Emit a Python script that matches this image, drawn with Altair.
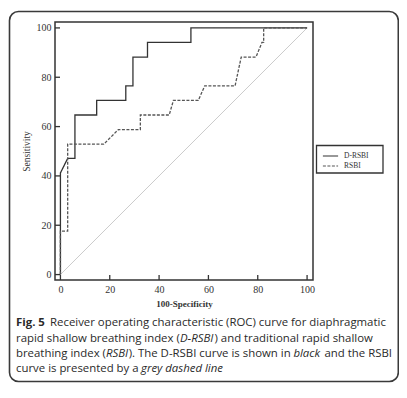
import altair as alt
import pandas as pd

# ---- data ----
d_fpr = [0, 0, 2.94, 5.88, 5.88, 14.7, 14.7, 26.5, 26.5, 29.4, 29.4, 35.3, 35.3, 52.9, 52.9, 100]
d_tpr = [0, 41.2, 47.1, 47.1, 64.7, 64.7, 70.6, 70.6, 76.5, 76.5, 88.2, 88.2, 94.1, 94.1, 100, 100]
r_fpr = [0, 0, 2.94, 2.94, 17.6, 23.5, 32.4, 32.4, 44.1, 45.8, 55.9, 58.5, 70.8, 73.3, 79.3, 81.7, 82.4, 82.4, 100]
r_tpr = [0, 17.6, 17.6, 52.9, 52.9, 58.8, 58.8, 64.7, 64.7, 70.6, 70.6, 76.5, 76.5, 88.2, 88.2, 94.1, 94.1, 100, 100]
series_names = ["D-RSBI", "RSBI"]
tick_values = [0, 20, 40, 60, 80, 100]
diag = [0, 100]

rows = []
for i, (x, y) in enumerate(zip(d_fpr, d_tpr)):
    rows.append({"series": "D-RSBI", "fpr": x, "tpr": y, "idx": i})
for i, (x, y) in enumerate(zip(r_fpr, r_tpr)):
    rows.append({"series": "RSBI", "fpr": x, "tpr": y, "idx": i})
df = pd.DataFrame(rows)
ticks_df = pd.DataFrame({"v": tick_values})
diag_df = pd.DataFrame({"x": diag, "y": diag})

# caption segments (text, style, x px, y px in plot coords)
cap_text = [
    "Fig. 5", "Receiver operating characteristic (ROC) curve for diaphragmatic",
    "rapid shallow breathing index (", "D-RSBI", ") and traditional rapid shallow",
    "breathing index (", "RSBI", "). The D-RSBI curve is shown in ", "black", "and the RSBI",
    "curve is presented by a ", "grey dashed line",
]
cap_style = ["bold", "normal",
             "normal", "italic", "normal",
             "normal", "italic", "normal", "italic", "normal",
             "normal", "italic"]
cap_x = [-39, -5,
         -39, 125, 159.5,
         -39, 51, 73.7, 238.4, 269.5,
         -39, 86]
cap_y = [301, 301,
         317, 317, 317,
         332, 332, 332, 332, 332,
         347, 347]
cap_df = pd.DataFrame({"t": cap_text, "s": cap_style, "px": cap_x, "py": cap_y})

XD = [-2.2, 102.4]
YD = [-2.2, 102.4]
SERIF = "Liberation Serif"
SANS = "Open Sans"

xscale = alt.Scale(domain=XD, nice=False, zero=False)
yscale = alt.Scale(domain=YD, nice=False, zero=False)

diag_line = alt.Chart(diag_df).mark_line(color="#cccccc", strokeWidth=1).encode(
    x=alt.X("x:Q", scale=xscale), y=alt.Y("y:Q", scale=yscale)
)

leg = dict(title=None, orient="none", legendX=270.5, legendY=129,
           symbolType="M-1.9,0H1.9", symbolSize=64, symbolStrokeWidth=1.2,
           labelFont=SERIF, labelFontSize=7.5, labelColor="#333",
           padding=0, rowPadding=1, labelOffset=8.5)

lines = alt.Chart(df).mark_line(strokeWidth=1.3).encode(
    x=alt.X("fpr:Q", scale=xscale,
            axis=alt.Axis(values=tick_values, title="100-Specificity", ticks=False, domain=False,
                          grid=False, labelFont=SERIF, labelFontSize=10, labelColor="#333",
                          labelPadding=4, titleFont=SERIF, titleFontSize=9, titleFontWeight="bold",
                          titleColor="#333", titlePadding=5)),
    y=alt.Y("tpr:Q", scale=yscale,
            axis=alt.Axis(values=tick_values, title="Sensitivity", ticks=False, domain=False,
                          grid=False, labelFont=SERIF, labelFontSize=10, labelColor="#333",
                          labelPadding=4, titleFont=SERIF, titleFontSize=9.5, titleFontWeight="normal",
                          titleColor="#333", titlePadding=5)),
    color=alt.Color("series:N", scale=alt.Scale(domain=series_names, range=["#333333", "#555555"]),
                    legend=alt.Legend(**leg)),
    strokeDash=alt.StrokeDash("series:N", scale=alt.Scale(domain=series_names, range=[[1, 0], [3, 1.5]]),
                              legend=alt.Legend(**leg)),
    order="idx:Q",
)

xticks = alt.Chart(ticks_df).mark_rule(color="#333", strokeWidth=1.3).encode(
    x=alt.X("v:Q", scale=xscale), y=alt.value(258), y2=alt.value(253)
)
yticks = alt.Chart(ticks_df).mark_rule(color="#333", strokeWidth=1.3).encode(
    y=alt.Y("v:Q", scale=yscale), x=alt.value(0), x2=alt.value(5)
)

one = pd.DataFrame({"a": [0]})
border = alt.Chart(one).mark_rect(
    fill=None, stroke="#3a3a3a", strokeWidth=1.6, cornerRadius=9
).encode(x=alt.value(-45.5), x2=alt.value(343.3), y=alt.value(-10.5), y2=alt.value(359.5))

legend_box = alt.Chart(one).mark_rect(
    fill=None, stroke="#333", strokeWidth=1.3
).encode(x=alt.value(261.5), x2=alt.value(328), y=alt.value(123.5), y2=alt.value(151))

def cap_layer(style):
    sub = cap_df[cap_df["s"] == style]
    kw = dict(font=SANS, fontSize=11.4, color="#2a2a2a", align="left", baseline="middle")
    if style == "bold":
        kw["fontWeight"] = "bold"
    if style == "italic":
        kw["fontStyle"] = "italic"
    return alt.Chart(sub).mark_text(**kw).encode(
        x=alt.X("px:Q", scale=None), y=alt.Y("py:Q", scale=None), text="t:N"
    )

chart = alt.layer(
    diag_line, lines, xticks, yticks, border, legend_box,
    cap_layer("normal"), cap_layer("italic"), cap_layer("bold"),
).resolve_scale(x="shared", y="shared").properties(
    width=258, height=258,
    autosize=alt.AutoSizeParams(type="none"),
    padding={"left": 47, "top": 14, "right": 86, "bottom": 110},
    background="white",
).configure_view(stroke="#333", strokeWidth=1.5)

chart.save("out.html", embed_options={"renderer": "svg", "actions": False})
